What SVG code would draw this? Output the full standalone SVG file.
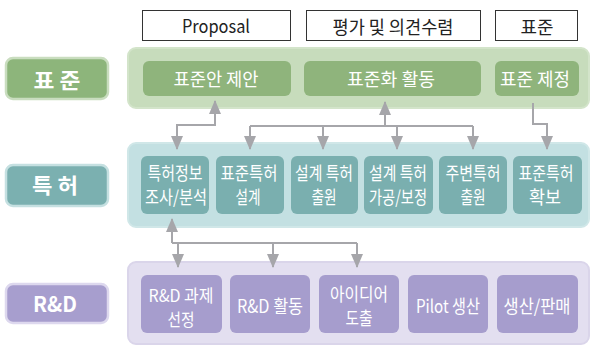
<svg xmlns="http://www.w3.org/2000/svg" width="591" height="346" viewBox="0 0 591 346">
  <defs>
    <style>
      .hdr { fill: #ffffff; stroke: #333333; stroke-width: 1; }
      .hdr-t { font-family: "Noto Sans CJK KR", "Noto Sans", sans-serif; font-size: 18px; fill: #222222; text-anchor: middle; }
      .lbl-t { font-family: "Noto Sans CJK KR", "Noto Sans", sans-serif; font-size: 21px; font-weight: bold; fill: #ffffff; text-anchor: middle; }
      .box-t { font-family: "Noto Sans CJK KR", "Noto Sans", sans-serif; font-size: 18px; fill: #ffffff; text-anchor: middle; }
      .sm { font-size: 17px; }
      .g-cont { fill: #c7dcbc; stroke: #d3e4ca; stroke-width: 2; }
      .g-box { fill: #8fb47c; }
      .g-lbl { fill: #8db57b; stroke: #c9ddbf; stroke-width: 2.5; }
      .t-cont { fill: #c3e0e2; stroke: #d0e7e8; stroke-width: 2; }
      .t-box { fill: #7aafaf; }
      .t-lbl { fill: #7bb0b0; stroke: #c5e0e1; stroke-width: 2.5; }
      .p-cont { fill: #e3dff0; stroke: #dad5ea; stroke-width: 2; }
      .p-box { fill: #a69dcd; }
      .p-lbl { fill: #a79ece; stroke: #ddd8ee; stroke-width: 2.5; }
      .wire { fill: none; stroke: #a6a6aa; stroke-width: 2; }
      .arr { marker-end: url(#head); }
      .arr2 { marker-start: url(#head); marker-end: url(#head); }
    </style>
    <marker id="head" viewBox="0 0 14 12" refX="13" refY="6" markerWidth="14" markerHeight="12" markerUnits="userSpaceOnUse" orient="auto-start-reverse">
      <path d="M0,0 L14,6 L0,12 Z" fill="#a6a6aa"/>
    </marker>
  </defs>

  <!-- column headers -->
  <g id="hdr-proposal">
    <rect class="hdr" x="142.5" y="10.5" width="148" height="30"/>
    <text class="hdr-t" x="216" y="33" textLength="68" lengthAdjust="spacingAndGlyphs">Proposal</text>
  </g>
  <g id="hdr-review">
    <rect class="hdr" x="306.5" y="10.5" width="174" height="30"/>
    <text class="hdr-t" x="393" y="34" textLength="121" lengthAdjust="spacingAndGlyphs">평가 및 의견수렴</text>
  </g>
  <g id="hdr-standard">
    <rect class="hdr" x="495.5" y="10.5" width="82" height="30"/>
    <text class="hdr-t" x="537" y="34" textLength="33" lengthAdjust="spacingAndGlyphs">표준</text>
  </g>

  <!-- row containers -->
  <rect class="g-cont" x="128" y="48" width="461" height="60" rx="8"/>
  <rect class="t-cont" x="128" y="143" width="461" height="84" rx="8"/>
  <rect class="p-cont" x="128" y="262" width="461" height="82" rx="8"/>

  <!-- row labels -->
  <g id="lbl-std">
    <rect class="g-lbl" x="6" y="58" width="102" height="41" rx="7"/>
    <text class="lbl-t" x="57" y="88" textLength="47" lengthAdjust="spacingAndGlyphs">표 준</text>
  </g>
  <g id="lbl-pat">
    <rect class="t-lbl" x="6" y="165" width="102" height="41" rx="7"/>
    <text class="lbl-t" x="55" y="193" textLength="46" lengthAdjust="spacingAndGlyphs">특 허</text>
  </g>
  <g id="lbl-rnd">
    <rect class="p-lbl" x="6" y="284" width="102" height="39" rx="7"/>
    <text class="lbl-t" x="55" y="312" textLength="44" lengthAdjust="spacingAndGlyphs" font-weight="normal">R&amp;D</text>
  </g>

  <!-- standards row -->
  <g id="std-propose">
    <rect class="g-box" x="143" y="61" width="148" height="35" rx="6"/>
    <text class="box-t" x="216" y="86" textLength="85" lengthAdjust="spacingAndGlyphs">표준안 제안</text>
  </g>
  <g id="std-activity">
    <rect class="g-box" x="304" y="61" width="177" height="35" rx="6"/>
    <text class="box-t" x="391" y="86" textLength="88" lengthAdjust="spacingAndGlyphs">표준화 활동</text>
  </g>
  <g id="std-establish">
    <rect class="g-box" x="495" y="61" width="84" height="35" rx="6"/>
    <text class="box-t" x="535" y="86" textLength="70" lengthAdjust="spacingAndGlyphs">표준 제정</text>
  </g>

  <!-- patent row -->
  <g id="pat-survey">
    <rect class="t-box" x="141" y="156" width="68" height="58" rx="6"/>
    <text class="box-t" x="175" y="180" textLength="55" lengthAdjust="spacingAndGlyphs">특허정보</text>
    <text class="box-t" x="176" y="204" textLength="62" lengthAdjust="spacingAndGlyphs">조사/분석</text>
  </g>
  <g id="pat-design">
    <rect class="t-box" x="216" y="156" width="68" height="58" rx="6"/>
    <text class="box-t" x="249" y="180" textLength="57" lengthAdjust="spacingAndGlyphs">표준특허</text>
    <text class="box-t" x="248" y="204" textLength="25" lengthAdjust="spacingAndGlyphs">설계</text>
  </g>
  <g id="pat-file">
    <rect class="t-box" x="291" y="156" width="67" height="58" rx="6"/>
    <text class="box-t" x="324" y="180" textLength="58" lengthAdjust="spacingAndGlyphs">설계 특허</text>
    <text class="box-t" x="324" y="204" textLength="25" lengthAdjust="spacingAndGlyphs">출원</text>
  </g>
  <g id="pat-refine">
    <rect class="t-box" x="364" y="156" width="69" height="58" rx="6"/>
    <text class="box-t" x="398" y="180" textLength="58" lengthAdjust="spacingAndGlyphs">설계 특허</text>
    <text class="box-t" x="398" y="204" textLength="58" lengthAdjust="spacingAndGlyphs">가공/보정</text>
  </g>
  <g id="pat-around">
    <rect class="t-box" x="439" y="156" width="68" height="58" rx="6"/>
    <text class="box-t" x="473" y="180" textLength="55" lengthAdjust="spacingAndGlyphs">주변특허</text>
    <text class="box-t" x="473" y="204" textLength="25" lengthAdjust="spacingAndGlyphs">출원</text>
  </g>
  <g id="pat-secure">
    <rect class="t-box" x="513" y="156" width="69" height="58" rx="6"/>
    <text class="box-t" x="546" y="180" textLength="55" lengthAdjust="spacingAndGlyphs">표준특허</text>
    <text class="box-t" x="545" y="204" textLength="32" lengthAdjust="spacingAndGlyphs">확보</text>
  </g>

  <!-- R&D row -->
  <g id="rnd-select">
    <rect class="p-box" x="141" y="275" width="81" height="58" rx="6"/>
    <text class="box-t sm" x="181" y="302" textLength="65" lengthAdjust="spacingAndGlyphs">R&amp;D 과제</text>
    <text class="box-t sm" x="181" y="326" textLength="27" lengthAdjust="spacingAndGlyphs">선정</text>
  </g>
  <g id="rnd-activity">
    <rect class="p-box" x="230" y="275" width="80" height="58" rx="6"/>
    <text class="box-t" x="270" y="313" textLength="66" lengthAdjust="spacingAndGlyphs">R&amp;D 활동</text>
  </g>
  <g id="rnd-idea">
    <rect class="p-box" x="319" y="275" width="80" height="58" rx="6"/>
    <text class="box-t" x="359" y="301" textLength="58" lengthAdjust="spacingAndGlyphs">아이디어</text>
    <text class="box-t" x="359" y="325" textLength="27" lengthAdjust="spacingAndGlyphs">도출</text>
  </g>
  <g id="rnd-pilot">
    <rect class="p-box" x="408" y="275" width="80" height="58" rx="6"/>
    <text class="box-t" x="448" y="313" textLength="64" lengthAdjust="spacingAndGlyphs">Pilot 생산</text>
  </g>
  <g id="rnd-sales">
    <rect class="p-box" x="497" y="275" width="81" height="58" rx="6"/>
    <text class="box-t" x="537" y="313" textLength="67" lengthAdjust="spacingAndGlyphs">생산/판매</text>
  </g>

  <!-- connectors -->
  <g id="connectors">
    <!-- proposal <-> patent survey -->
    <path class="wire arr2" d="M177,149 V125 H215 V101"/>
    <!-- standardization activity <-> patent design / filing / refinement / surrounding -->
    <path class="wire arr" d="M385,126 V102"/>
    <path class="wire" d="M250,126 H473"/>
    <path class="wire arr" d="M250,126 V149"/>
    <path class="wire arr" d="M323,126 V149"/>
    <path class="wire arr" d="M397,126 V149"/>
    <path class="wire arr" d="M473,126 V149"/>
    <!-- establishment -> secured patents -->
    <path class="wire arr" d="M533,103 V124 H547 V149"/>
    <!-- patent survey <-> R&D -->
    <path class="wire arr" d="M172,243 V219"/>
    <path class="wire" d="M172,243 H357"/>
    <path class="wire arr" d="M178,243 V267"/>
    <path class="wire arr" d="M273,243 V267"/>
    <path class="wire arr" d="M357,243 V267"/>
  </g>
</svg>
